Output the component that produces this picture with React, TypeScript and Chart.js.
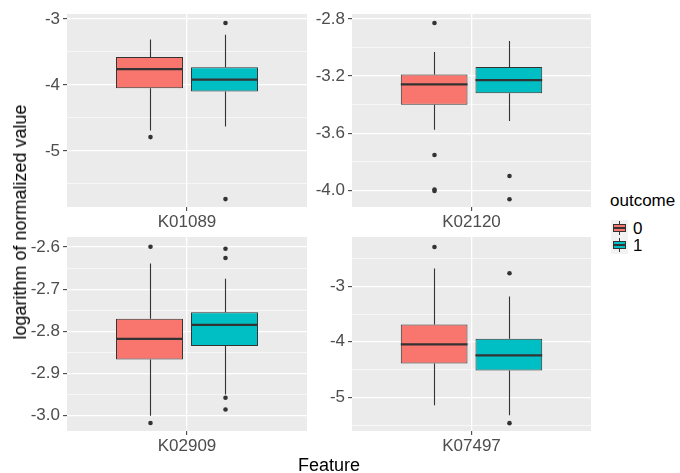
import React, { useEffect, useRef } from 'react';
import { Chart, registerables } from 'chart.js';
Chart.register(...registerables);

// ---------------- data ----------------
const features = ['K01089', 'K02120', 'K02909', 'K07497'];
const outcomes = ['0', '1'];

// outcome 0
const q1_0 = [-4.05, -3.401, -2.867, -4.389];
const med_0 = [-3.76, -3.258, -2.818, -4.047];
const q3_0 = [-3.577, -3.188, -2.770, -3.687];
const lo_0 = [-4.69, -3.576, -3.001, -5.144];
const hi_0 = [-3.31, -3.032, -2.639, -2.681];
const out_0 = [[-4.79], [-2.828, -3.753, -3.995, -4.005], [-2.599, -3.018], [-2.291]];

// outcome 1
const q1_1 = [-4.10, -3.321, -2.835, -4.515];
const med_1 = [-3.92, -3.228, -2.785, -4.245];
const q3_1 = [-3.73, -3.137, -2.755, -3.946];
const lo_1 = [-4.63, -3.515, -2.950, -5.325];
const hi_1 = [-3.24, -2.955, -2.675, -3.186];
const out_1 = [[-3.06, -5.73], [-3.90, -4.063], [-2.604, -2.626, -2.958, -2.986], [-2.766, -5.466]];

// axes
const yMin = [-5.85, -4.117, -3.037, -5.607];
const yMax = [-2.924, -2.765, -2.576, -2.112];
const majorTicks = [[-5, -4, -3], [-4.0, -3.6, -3.2, -2.8], [-3.0, -2.9, -2.8, -2.7, -2.6], [-5, -4, -3]];
const minorTicks = [[-5.5, -4.5, -3.5], [-3.8, -3.4, -3.0], [-2.95, -2.85, -2.75, -2.65], [-5.5, -4.5, -3.5, -2.5]];
const tickDecimals = [0, 1, 1, 0];

const fills = ['#F8766D', '#00BFC4'];

// ---------------- layout ----------------
const FONT = '"Liberation Sans", Arial, Helvetica, sans-serif';
const PANELS = [
  { L: 67, T: 14, R: 307, B: 207 },
  { L: 352, T: 14, R: 591, B: 207 },
  { L: 67, T: 237, R: 307, B: 431 },
  { L: 352, T: 237, R: 591, B: 431 },
];
const CANVAS_LEFT = [0, 310, 0, 310];
const CANVAS_TOP = [0, 0, 232, 232];
const PAD_R = 3;
const X_AXIS_H = 28;

const isMajor = (i: number, v: number) => majorTicks[i].some((m) => Math.abs(m - v) < 1e-6);

const boxPlugin = {
  id: 'boxExtras',
  beforeDraw(chart: any) {
    const { ctx, chartArea } = chart;
    ctx.save();
    ctx.fillStyle = '#EBEBEB';
    ctx.fillRect(chartArea.left, chartArea.top, chartArea.right - chartArea.left, chartArea.bottom - chartArea.top);
    ctx.restore();
  },
  beforeDatasetsDraw(chart: any) {
    const ctx = chart.ctx;
    const ys = chart.scales.y;
    ctx.save();
    ctx.strokeStyle = '#333333';
    ctx.lineWidth = 1.1;
    chart.data.datasets.forEach((ds: any, di: number) => {
      const el = chart.getDatasetMeta(di).data[0];
      if (!el) return;
      const st = ds.stats;
      const x = Math.round(el.x) + 0.5;
      ctx.beginPath();
      ctx.moveTo(x, ys.getPixelForValue(st.hi));
      ctx.lineTo(x, ys.getPixelForValue(st.q3));
      ctx.moveTo(x, ys.getPixelForValue(st.q1));
      ctx.lineTo(x, ys.getPixelForValue(st.lo));
      ctx.stroke();
    });
    ctx.restore();
  },
  afterDatasetsDraw(chart: any) {
    const ctx = chart.ctx;
    const ys = chart.scales.y;
    ctx.save();
    chart.data.datasets.forEach((ds: any, di: number) => {
      const el = chart.getDatasetMeta(di).data[0];
      if (!el) return;
      const st = ds.stats;
      const x = Math.round(el.x) + 0.5;
      const w = el.width;
      ctx.strokeStyle = '#333333';
      ctx.lineWidth = 2.2;
      ctx.beginPath();
      const my = ys.getPixelForValue(st.med);
      ctx.moveTo(el.x - w / 2, my);
      ctx.lineTo(el.x + w / 2, my);
      ctx.stroke();
      ctx.fillStyle = '#333333';
      st.out.forEach((v: number) => {
        ctx.beginPath();
        ctx.arc(x, ys.getPixelForValue(v), 2.3, 0, Math.PI * 2);
        ctx.fill();
      });
    });
    ctx.restore();
  },
};

function makeConfig(i: number): any {
  const p = PANELS[i];
  const yAxisW = p.L - CANVAS_LEFT[i];
  const padTop = p.T - CANVAS_TOP[i];
  const stats = [
    { q1: q1_0[i], med: med_0[i], q3: q3_0[i], lo: lo_0[i], hi: hi_0[i], out: out_0[i] },
    { q1: q1_1[i], med: med_1[i], q3: q3_1[i], lo: lo_1[i], hi: hi_1[i], out: out_1[i] },
  ];
  const allTicks = [...majorTicks[i], ...minorTicks[i]].sort((a, b) => a - b);
  const zeroPad = (s: any) => {
    s.paddingTop = 0;
    s.paddingBottom = 0;
    s.paddingLeft = 0;
    s.paddingRight = 0;
  };
  return {
    type: 'bar',
    data: {
      labels: [features[i]],
      datasets: outcomes.map((o, k) => ({
        label: o,
        data: [[stats[k].q1, stats[k].q3]],
        backgroundColor: fills[k],
        borderColor: '#333333',
        borderWidth: 1,
        borderSkipped: false,
        categoryPercentage: 0.625,
        barPercentage: 0.893,
        stats: stats[k],
      })),
    },
    options: {
      animation: false,
      responsive: false,
      devicePixelRatio: 1,
      events: [],
      layout: { padding: { top: padTop, right: PAD_R, left: 0, bottom: 0 } },
      plugins: { legend: { display: false }, tooltip: { enabled: false } },
      scales: {
        x: {
          type: 'category',
          offset: true,
          border: { display: false },
          grid: {
            offset: false,
            color: '#FFFFFF',
            lineWidth: 1.3,
            drawTicks: true,
            tickLength: 4,
            tickColor: '#333333',
            tickWidth: 1,
          },
          ticks: {
            color: '#4D4D4D',
            font: { family: FONT, size: 17 },
            padding: 1,
            maxRotation: 0,
            autoSkip: false,
          },
          afterFit: (s: any) => {
            s.height = X_AXIS_H;
            zeroPad(s);
          },
        },
        y: {
          type: 'linear',
          min: yMin[i],
          max: yMax[i],
          border: { display: false },
          afterBuildTicks: (s: any) => {
            s.ticks = allTicks.map((v) => ({ value: v }));
          },
          grid: {
            color: '#FFFFFF',
            lineWidth: (c: any) => (c.tick && isMajor(i, c.tick.value) ? 1.3 : 0.6),
            drawTicks: true,
            tickLength: 4,
            tickColor: (c: any) => (c.tick && isMajor(i, c.tick.value) ? '#333333' : 'rgba(0,0,0,0)'),
            tickWidth: 1,
          },
          ticks: {
            color: '#4D4D4D',
            font: { family: FONT, size: 17 },
            padding: 3,
            autoSkip: false,
            callback: (v: any) => (isMajor(i, Number(v)) ? Number(v).toFixed(tickDecimals[i]) : ''),
          },
          afterFit: (s: any) => {
            s.width = yAxisW;
            zeroPad(s);
          },
        },
      },
    },
    plugins: [boxPlugin],
  };
}

function Panel({ i }: { i: number }) {
  const ref = useRef<HTMLCanvasElement | null>(null);
  const p = PANELS[i];
  const w = p.R - CANVAS_LEFT[i] + PAD_R;
  const h = p.B - CANVAS_TOP[i] + X_AXIS_H;
  useEffect(() => {
    if (!ref.current) return;
    const chart = new Chart(ref.current, makeConfig(i));
    return () => chart.destroy();
  }, [i]);
  return (
    <canvas
      ref={ref}
      width={w}
      height={h}
      style={{ position: 'absolute', left: CANVAS_LEFT[i], top: CANVAS_TOP[i], width: w, height: h }}
    />
  );
}

function LegendKey({ top, fill }: { top: number; fill: string }) {
  return (
    <div style={{ position: 'absolute', left: 611, top, width: 17, height: 17, background: '#F2F2F2' }}>
      <div style={{ position: 'absolute', left: 8, top: 1.7, width: 1, height: 13.6, background: '#333' }} />
      <div
        style={{
          position: 'absolute',
          left: 2,
          top: 4.25,
          width: 13,
          height: 8.5,
          background: fill,
          border: '1px solid #333',
          boxSizing: 'border-box',
        }}
      />
      <div style={{ position: 'absolute', left: 2, top: 7.6, width: 13, height: 1.6, background: '#333' }} />
    </div>
  );
}

export default function App() {
  const txt: React.CSSProperties = { position: 'absolute', fontFamily: FONT, color: '#000', whiteSpace: 'nowrap', lineHeight: 1 };
  return (
    <div style={{ position: 'fixed', left: 0, top: 0, width: 680, height: 473, background: '#fff', overflow: 'hidden' }}>
      {[0, 1, 2, 3].map((i) => (
        <Panel key={i} i={i} />
      ))}
      <div style={{ ...txt, left: 20, top: 222, fontSize: 18, transform: 'translate(-50%, -50%) rotate(-90deg)' }}>
        logarithm of normalized value
      </div>
      <div style={{ ...txt, left: 329, top: 465, fontSize: 18, transform: 'translate(-50%, -50%)' }}>Feature</div>
      <div style={{ ...txt, left: 610, top: 200, fontSize: 17, transform: 'translateY(-50%)' }}>outcome</div>
      <LegendKey top={219.5} fill={fills[0]} />
      <LegendKey top={236.5} fill={fills[1]} />
      <div style={{ ...txt, left: 633, top: 228, fontSize: 17, transform: 'translateY(-50%)' }}>{outcomes[0]}</div>
      <div style={{ ...txt, left: 633, top: 245, fontSize: 17, transform: 'translateY(-50%)' }}>{outcomes[1]}</div>
    </div>
  );
}
